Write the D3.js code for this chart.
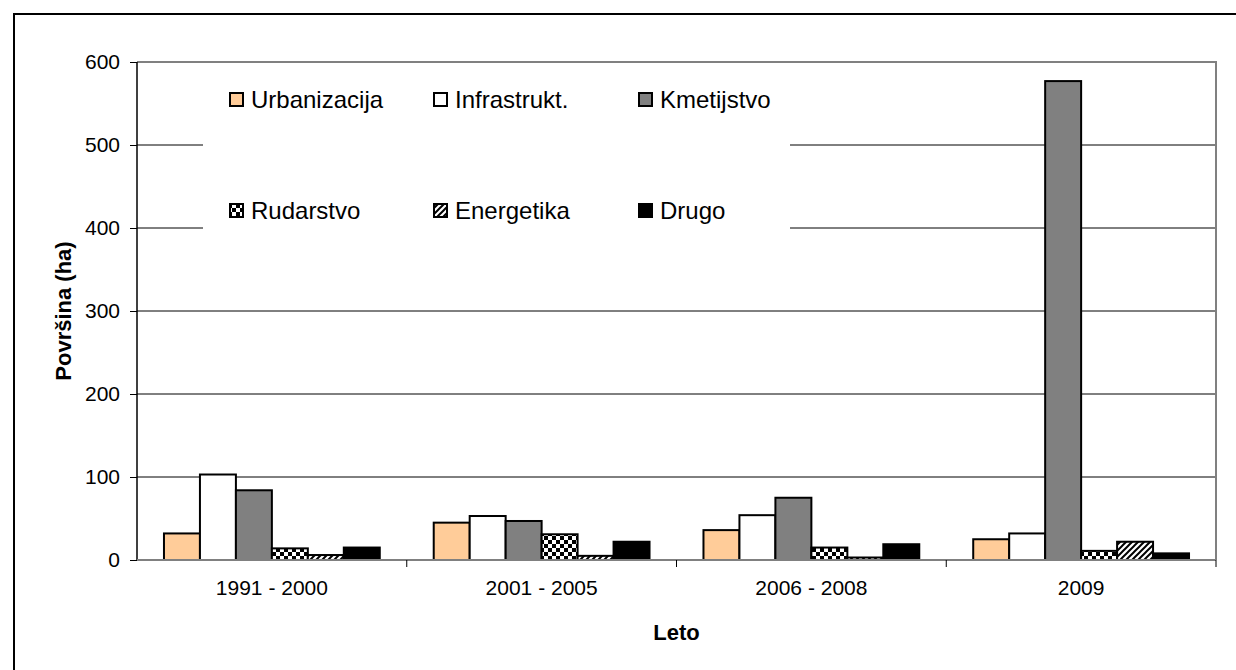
<!DOCTYPE html>
<html><head><meta charset="utf-8">
<script src="https://cdn.jsdelivr.net/npm/d3@7"></script>
<style>body{margin:0;background:#fff;} svg{display:block;font-family:"Liberation Sans",Arial,sans-serif;}</style>
</head><body><svg id="c" width="1236" height="670"></svg>
<script>
const categories = ["1991 - 2000","2001 - 2005","2006 - 2008","2009"];
const seriesNames = ["Urbanizacija","Infrastrukt.","Kmetijstvo","Rudarstvo","Energetika","Drugo"];
const urbanizacija = [32, 45, 36, 25];
const infrastrukt = [103, 53, 54, 32];
const kmetijstvo = [84, 47, 75, 577];
const rudarstvo = [14, 31, 15, 11];
const energetika = [6, 5, 3, 22];
const drugo = [15, 22, 19, 8];
const yTicks = [0,100,200,300,400,500,600];
const seriesValues = [urbanizacija, infrastrukt, kmetijstvo, rudarstvo, energetika, drugo];

const svg = d3.select("#c");
const defs = svg.append("defs");
const chk = defs.append("pattern").attr("id","chk").attr("patternUnits","userSpaceOnUse").attr("width",8).attr("height",8);
chk.append("rect").attr("width",8).attr("height",8).attr("fill","#fff");
chk.append("rect").attr("width",4).attr("height",4).attr("fill","#000");
chk.append("rect").attr("x",4).attr("y",4).attr("width",4).attr("height",4).attr("fill","#000");
const dia = defs.append("pattern").attr("id","dia").attr("patternUnits","userSpaceOnUse").attr("width",6).attr("height",6);
dia.append("rect").attr("width",6).attr("height",6).attr("fill","#fff");
dia.append("path").attr("d","M-1,1 L1,-1 M0,6 L6,0 M5,7 L7,5").attr("stroke","#000").attr("stroke-width",2);
const fills = ["#FFCC99","#FFFFFF","#808080","url(#chk)","url(#dia)","#000000"];

// outer frame
svg.append("rect").attr("x",14).attr("y",14).attr("width",1240).attr("height",680).attr("fill","none").attr("stroke","#000").attr("stroke-width",2);

const L=137, R=1216, T=62, B=560;
const x0 = d3.scaleBand().domain(categories).range([L,R]);
const x1 = d3.scaleBand().domain(seriesNames).range([0,x0.bandwidth()]).paddingOuter(0.75);
const y = d3.scaleLinear().domain([0,600]).range([B,T]);

// gridlines
svg.append("g").selectAll("line").data(yTicks.filter(t=>t>0 && t<600)).join("line")
  .attr("x1",L).attr("x2",R).attr("y1",d=>y(d)).attr("y2",d=>y(d)).attr("stroke","#000").attr("stroke-width",1);
// plot border top/right
svg.append("path").attr("d",`M${L},${T}H${R}V${B}`).attr("fill","none").attr("stroke","#808080").attr("stroke-width",2);

// legend background
const leg = svg.append("g");
leg.append("rect").attr("x",203).attr("y",70).attr("width",587).attr("height",170).attr("fill","#fff");

// bars
const g = svg.append("g");
seriesNames.forEach((s,si)=>{
  g.append("g").selectAll("rect").data(seriesValues[si]).join("rect")
    .attr("x",(d,i)=>x0(categories[i])+x1(s))
    .attr("y",d=>y(d)).attr("width",x1.bandwidth()).attr("height",d=>B-y(d))
    .attr("fill",fills[si]).attr("stroke","#000").attr("stroke-width",2);
});

// axes
const yAxis = svg.append("g").attr("transform",`translate(${L},0)`)
  .call(d3.axisLeft(y).tickValues(yTicks).tickSize(7).tickPadding(10).tickFormat(d3.format("d")));
yAxis.select(".domain").attr("stroke","#000").attr("stroke-width",1.5).attr("d",`M0,${T}V${B}`);
yAxis.selectAll(".tick line").attr("stroke","#000");
yAxis.selectAll("text").attr("font-size",21).attr("fill","#000").attr("font-family","Liberation Sans, Arial, sans-serif");

const xAxis = svg.append("g").attr("transform",`translate(0,${B})`)
  .call(d3.axisBottom(x0).tickSize(0).tickPadding(20));
xAxis.select(".domain").attr("stroke","#808080").attr("stroke-width",2).attr("d",`M${L},0H${R}`);
xAxis.selectAll("text").attr("font-size",21).attr("fill","#000").attr("font-family","Liberation Sans, Arial, sans-serif");
// group separators ticks
svg.append("g").selectAll("line").data(categories).join("line")
  .attr("x1",d=>x0(d)+x0.bandwidth()).attr("x2",d=>x0(d)+x0.bandwidth())
  .attr("y1",B).attr("y2",B+7).attr("stroke","#000");

// axis titles
svg.append("text").attr("x",(L+R)/2).attr("y",640).attr("text-anchor","middle")
  .attr("font-size",22).attr("font-weight","bold").text("Leto");
svg.append("text").attr("transform",`translate(71,${(T+B)/2}) rotate(-90)`).attr("text-anchor","middle")
  .attr("font-size",22).attr("font-weight","bold").text("Površina (ha)");

// legend items
const legX = [230, 434, 639], legY = [100, 211];
seriesNames.forEach((s,i)=>{
  const cx = legX[i%3], cy = legY[Math.floor(i/3)];
  leg.append("rect").attr("x",cx).attr("y",cy-7).attr("width",13).attr("height",13)
    .attr("fill",fills[i]).attr("stroke","#000").attr("stroke-width",2);
  leg.append("text").attr("x",cx+21).attr("y",cy+8).attr("font-size",24).attr("fill","#000").text(s);
});
</script></body></html>
